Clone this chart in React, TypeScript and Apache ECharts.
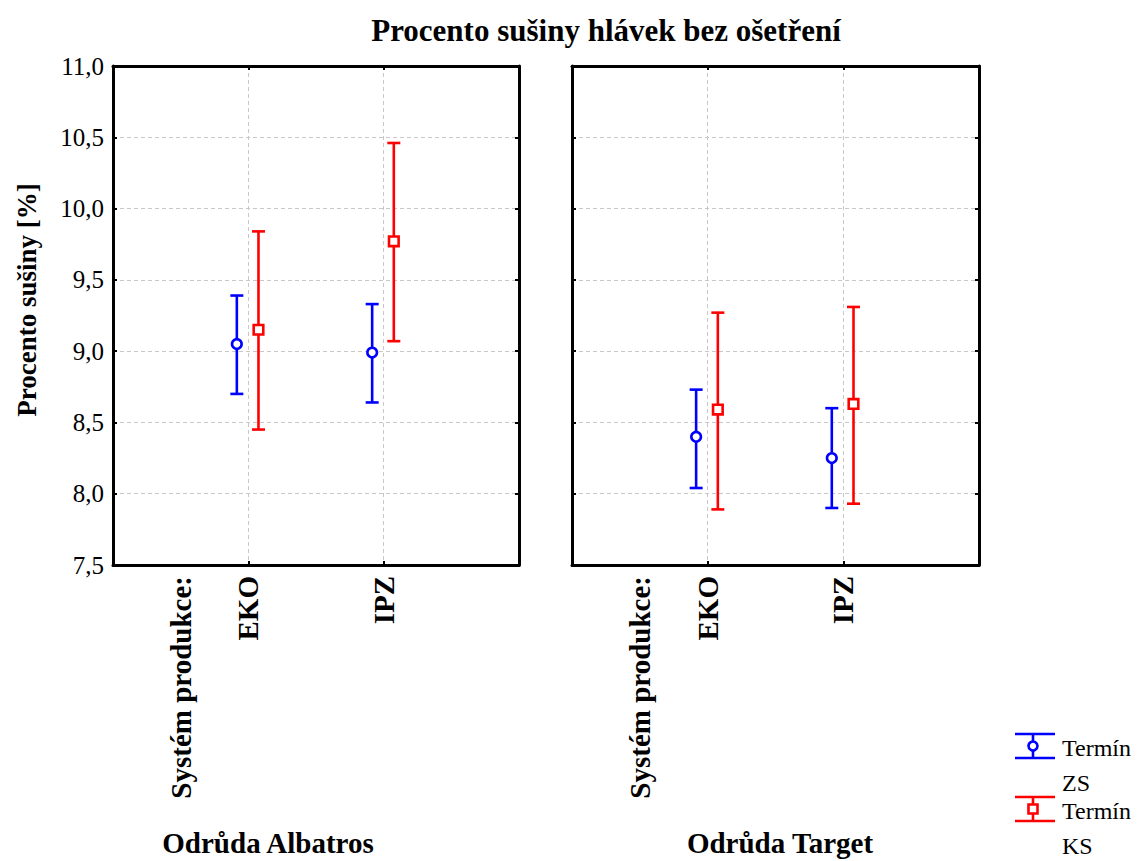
import React, { useEffect, useRef } from "react";
import * as echarts from "echarts";

// ---- data ----
const systems = ["EKO", "IPZ"];
const axisLabelText = ["Systém produkce:", "EKO", "IPZ"];
const varieties = ["Odrůda Albatros", "Odrůda Target"];
const terms = ["Termín ZS", "Termín KS"];

const albatrosZsMean = [9.05, 8.99];
const albatrosZsLow = [8.7, 8.64];
const albatrosZsHigh = [9.39, 9.33];
const albatrosKsMean = [9.15, 9.77];
const albatrosKsLow = [8.45, 9.07];
const albatrosKsHigh = [9.84, 10.46];

const targetZsMean = [8.4, 8.25];
const targetZsLow = [8.04, 7.9];
const targetZsHigh = [8.73, 8.6];
const targetKsMean = [8.59, 8.63];
const targetKsLow = [7.89, 7.93];
const targetKsHigh = [9.27, 9.31];

const yMin = 7.5;
const yMax = 11.0;
const yStep = 0.5;

const BLUE = "#0000ff";
const RED = "#ff0000";
const FONT = "'Liberation Serif', 'Times New Roman', serif";

function App() {
  const ref = useRef<HTMLDivElement>(null);

  useEffect(() => {
    if (!ref.current) return;
    const chart = echarts.init(ref.current, null, { renderer: "svg" });

    const grids = [
      { left: 113, top: 66, width: 406, height: 499 },
      { left: 572, top: 66, width: 407, height: 499 },
    ];

    const xAxes: any[] = [];
    const yAxes: any[] = [];
    grids.forEach((_, gi) => {
      xAxes.push({
        type: "value",
        gridIndex: gi,
        position: "bottom",
        min: 0,
        max: 3,
        interval: 1,
        axisLine: { show: true, onZero: false, lineStyle: { color: "#000", width: 3 } },
        axisTick: { show: true, inside: true, length: 4, lineStyle: { color: "#000", width: 2 } },
        splitLine: { show: true, lineStyle: { color: "#c8c8c8", type: [4, 3], width: 1 } },
        axisLabel: {
          show: true,
          rotate: 90,
          margin: 11,
          customValues: [0.5, 1, 2],
          formatter: (v: number) => {
            if (Math.abs(v - 0.5) < 1e-6) return axisLabelText[0];
            if (Math.abs(v - 1) < 1e-6) return axisLabelText[1];
            if (Math.abs(v - 2) < 1e-6) return axisLabelText[2];
            return "";
          },
          color: "#000",
          fontFamily: FONT,
          fontWeight: "bold",
          fontSize: 29,
        },
      });
      xAxes.push({
        type: "value",
        gridIndex: gi,
        position: "top",
        min: 0,
        max: 3,
        interval: 1,
        axisLine: { show: true, onZero: false, lineStyle: { color: "#000", width: 3 } },
        axisTick: { show: true, inside: true, length: 4, lineStyle: { color: "#000", width: 2 } },
        splitLine: { show: false },
        axisLabel: { show: false },
      });
      yAxes.push({
        type: "value",
        gridIndex: gi,
        position: "left",
        min: yMin,
        max: yMax,
        interval: yStep,
        axisLine: { show: true, onZero: false, lineStyle: { color: "#000", width: 3 } },
        axisTick: { show: true, inside: true, length: 4, lineStyle: { color: "#000", width: 2 } },
        splitLine: { show: true, lineStyle: { color: "#c8c8c8", type: [4, 3], width: 1 } },
        axisLabel: {
          show: gi === 0,
          margin: 9,
          color: "#000",
          fontFamily: FONT,
          fontSize: 25,
          formatter: (v: number) => v.toFixed(1).replace(".", ","),
        },
      });
      yAxes.push({
        type: "value",
        gridIndex: gi,
        position: "right",
        min: yMin,
        max: yMax,
        interval: yStep,
        axisLine: { show: true, onZero: false, lineStyle: { color: "#000", width: 3 } },
        axisTick: { show: true, inside: true, length: 4, lineStyle: { color: "#000", width: 2 } },
        splitLine: { show: false },
        axisLabel: { show: false },
      });
    });

    const makeRender = (color: string, marker: "circle" | "square") =>
      (params: any, api: any) => {
        const x = api.value(0);
        const m = api.value(1);
        const lo = api.value(2);
        const hi = api.value(3);
        const pm = api.coord([x, m]);
        const pl = api.coord([x, lo]);
        const ph = api.coord([x, hi]);
        const cap = 6.5;
        const ls = { stroke: color, lineWidth: 2.6 };
        const children: any[] = [
          { type: "line", shape: { x1: pm[0], y1: ph[1], x2: pm[0], y2: pl[1] }, style: ls },
          { type: "line", shape: { x1: pm[0] - cap, y1: ph[1], x2: pm[0] + cap, y2: ph[1] }, style: ls },
          { type: "line", shape: { x1: pm[0] - cap, y1: pl[1], x2: pm[0] + cap, y2: pl[1] }, style: ls },
        ];
        if (marker === "circle") {
          children.push({
            type: "circle",
            shape: { cx: pm[0], cy: pm[1], r: 4.8 },
            style: { fill: "#fff", stroke: color, lineWidth: 2.6 },
          });
        } else {
          children.push({
            type: "rect",
            shape: { x: pm[0] - 4.8, y: pm[1] - 4.8, width: 9.6, height: 9.6 },
            style: { fill: "#fff", stroke: color, lineWidth: 2.6 },
          });
        }
        return { type: "group", children };
      };

    const zsOffset = -0.085;
    const ksOffset = 0.075;
    const build = (mean: number[], low: number[], high: number[], off: number) =>
      systems.map((_, i) => [i + 1 + off, mean[i], low[i], high[i]]);

    const seriesDefs = [
      { g: 0, name: terms[0], color: BLUE, marker: "circle", data: build(albatrosZsMean, albatrosZsLow, albatrosZsHigh, zsOffset) },
      { g: 0, name: terms[1], color: RED, marker: "square", data: build(albatrosKsMean, albatrosKsLow, albatrosKsHigh, ksOffset) },
      { g: 1, name: terms[0], color: BLUE, marker: "circle", data: build(targetZsMean, targetZsLow, targetZsHigh, zsOffset) },
      { g: 1, name: terms[1], color: RED, marker: "square", data: build(targetKsMean, targetKsLow, targetKsHigh, ksOffset) },
    ];

    const series = seriesDefs.map((s) => ({
      type: "custom",
      name: s.name,
      xAxisIndex: s.g * 2,
      yAxisIndex: s.g * 2,
      renderItem: makeRender(s.color, s.marker as any),
      encode: { x: 0, y: [1, 2, 3] },
      data: s.data,
      z: 5,
    }));

    const legendItems: any[] = [];
    const legendRow = (color: string, marker: "circle" | "square", y: number, l1: string, l2: string) => {
      const ls = { stroke: color, lineWidth: 2.6 };
      legendItems.push(
        { type: "line", shape: { x1: 1015, y1: y - 12, x2: 1055, y2: y - 12 }, style: ls },
        { type: "line", shape: { x1: 1015, y1: y + 12, x2: 1055, y2: y + 12 }, style: ls },
        { type: "line", shape: { x1: 1033, y1: y - 12, x2: 1033, y2: y + 12 }, style: ls },
        marker === "circle"
          ? { type: "circle", shape: { cx: 1033, cy: y, r: 4.5 }, style: { fill: "#fff", stroke: color, lineWidth: 2.6 } }
          : { type: "rect", shape: { x: 1028.5, y: y - 4.5, width: 9, height: 9 }, style: { fill: "#fff", stroke: color, lineWidth: 2.6 } },
        { type: "text", x: 1062, y: y + 2, style: { text: l1, font: `24px ${FONT}`, fill: "#000", textVerticalAlign: "middle" } },
        { type: "text", x: 1062, y: y + 37, style: { text: l2, font: `24px ${FONT}`, fill: "#000", textVerticalAlign: "middle" } }
      );
    };
    legendRow(BLUE, "circle", 746, "Termín", "ZS");
    legendRow(RED, "square", 809, "Termín", "KS");

    const option: any = {
      animation: false,
      backgroundColor: "#fff",
      title: {
        text: "Procento sušiny hlávek bez ošetření",
        left: 601,
        top: 10,
        textAlign: "center",
        textStyle: { fontFamily: FONT, fontWeight: "bold", fontSize: 31, color: "#000" },
      },
      grid: grids.map((g) => ({ ...g, containLabel: false })),
      xAxis: xAxes,
      yAxis: yAxes,
      series,
      graphic: [
        {
          type: "text",
          x: 27,
          y: 300,
          rotation: Math.PI / 2,
          style: {
            text: "Procento sušiny [%]",
            font: `bold 27px ${FONT}`,
            fill: "#000",
            textAlign: "center",
            textVerticalAlign: "middle",
          },
        },
        {
          type: "text",
          x: 268,
          y: 843,
          style: { text: varieties[0], font: `bold 29px ${FONT}`, fill: "#000", textAlign: "center", textVerticalAlign: "middle" },
        },
        {
          type: "text",
          x: 780,
          y: 843,
          style: { text: varieties[1], font: `bold 29px ${FONT}`, fill: "#000", textAlign: "center", textVerticalAlign: "middle" },
        },
        ...legendItems,
      ],
    };

    chart.setOption(option);
    return () => chart.dispose();
  }, []);

  return (
    <div
      ref={ref}
      style={{ position: "fixed", left: 0, top: 0, width: 1138, height: 861, background: "#fff" }}
    />
  );
}

export default App;
